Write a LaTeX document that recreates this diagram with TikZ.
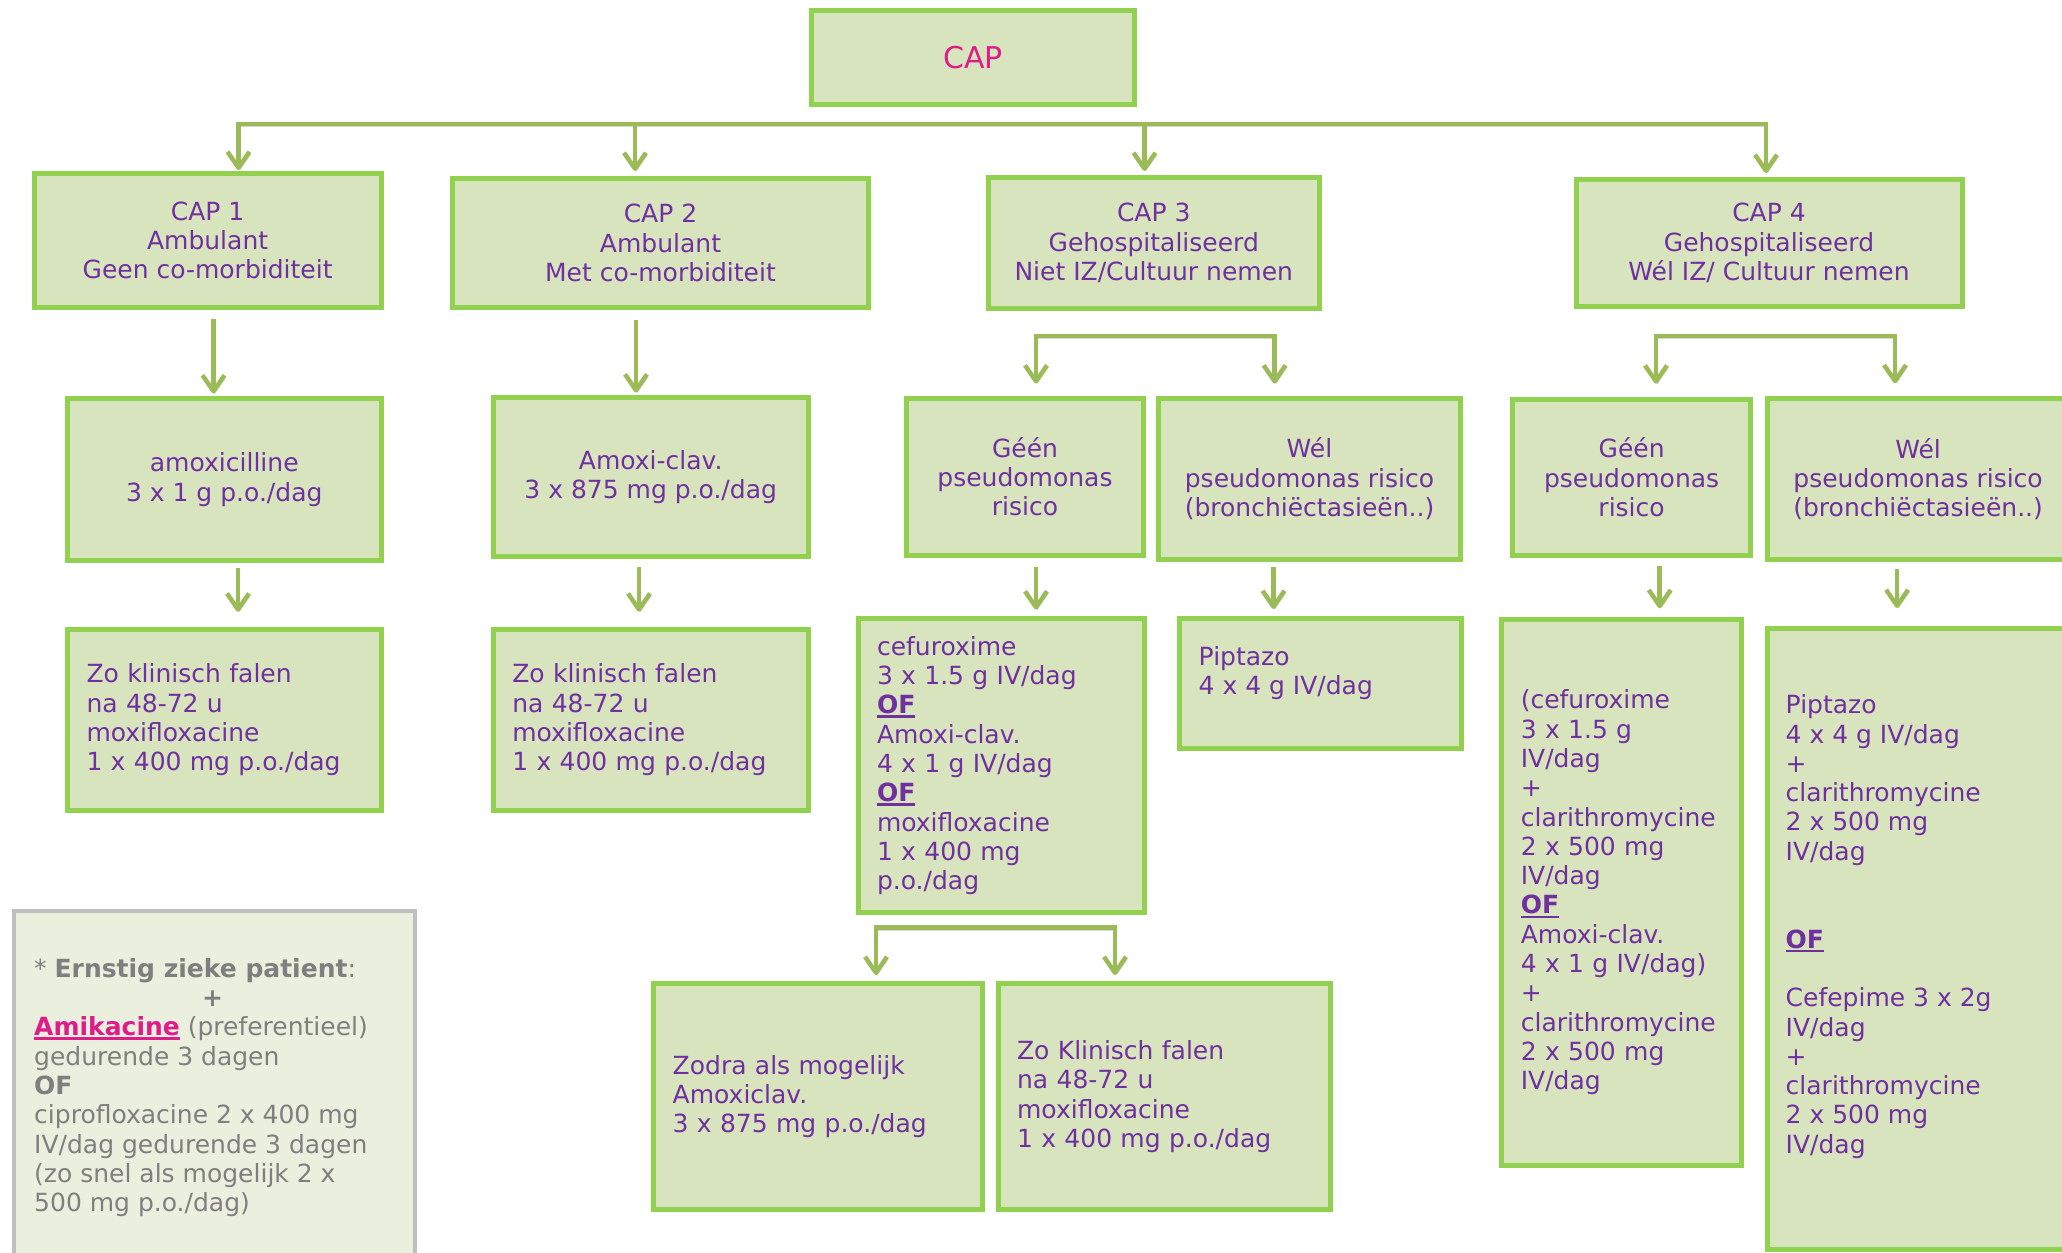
\documentclass[tikz,border=0pt]{standalone}
\usepackage{fontspec}
\setmainfont{DejaVu Sans}
\usetikzlibrary{arrows.meta}

\definecolor{boxfill}{HTML}{D8E4BE}
\definecolor{boxline}{HTML}{92D050}
\definecolor{conn}{HTML}{9BBB59}
\definecolor{txt}{HTML}{7030A0}
\definecolor{capmag}{HTML}{DE1C8A}
\definecolor{notefill}{HTML}{EBEFDD}
\definecolor{noteline}{HTML}{BFBFBF}
\definecolor{notetxt}{HTML}{7F7F7F}

\hyphenpenalty=10000
\exhyphenpenalty=10000

% thick underline used for the "OF" separators and the drug name
\newcommand\markline[1]{\leavevmode\setbox0\hbox{#1}\rlap{\rule[-4pt]{\wd0}{2.4pt}}\box0}
\newcommand\ofmark{\markline{\textbf{OF}}}

\begin{document}
\begin{tikzpicture}[x=1pt,y=-1pt,
  box/.style={draw=boxline, fill=boxfill, line width=5pt, text=txt,
    font=\fontsize{25}{29.3}\selectfont, inner sep=0pt},
  cbox/.style={box, align=center},
  lbox/.style={box, align=left, inner xsep=19pt, inner ysep=0pt},
  plain/.style={text=txt, font=\fontsize{25}{29.3}\selectfont, align=left, inner sep=0pt, anchor=north west},
  tip/.tip={Straight Barb[length=16pt,width=22pt,line join=round]},
  link/.style={draw=conn, line width=4.5pt, line join=miter,
    preaction={draw=black, draw opacity=0.16, transform canvas={shift={(1.5pt,-2.5pt)}}}},
  arr/.style={link, -tip},
  bracket/.style={link, tip-tip},
]
\clip (0,0) rectangle (2062,1253);
\fill[white] (0,0) rectangle (2062,1253);

% ---- top level
\node[cbox, minimum width=323pt, minimum height=94pt, text=capmag,
  font=\fontsize{30}{36}\selectfont] (cap) at (973,57.5) {CAP};

% ---- categories
\node[cbox, minimum width=347pt, minimum height=134pt] (cap1) at (207.6,240.5)
  {CAP 1\\Ambulant\\Geen co-morbiditeit};
\node[cbox, minimum width=416pt, minimum height=129pt] (cap2) at (660.5,243)
  {CAP 2\\Ambulant\\Met co-morbiditeit};
\node[cbox, minimum width=330.5pt, minimum height=131pt] (cap3) at (1153.75,243)
  {CAP 3\\Gehospitaliseerd\\Niet IZ/Cultuur nemen};
\node[cbox, minimum width=386pt, minimum height=127pt] (cap4) at (1769,243)
  {CAP 4\\Gehospitaliseerd\\Wél IZ/ Cultuur nemen};

% ---- CAP 1 and CAP 2 columns
\node[cbox, minimum width=313.5pt, minimum height=162pt] (amox) at (224.25,479.5)
  {amoxicilline\\3 x 1 g p.o./dag};
\node[cbox, minimum width=314.8pt, minimum height=158.6pt] (amoxclav) at (650.7,476.8)
  {Amoxi-clav.\\3 x 875 mg p.o./dag};
\node[lbox, minimum width=313.5pt, minimum height=181.3pt, text width=275.5pt] (fail1) at (224.25,719.85)
  {Zo klinisch falen\\na 48-72 u\\moxifloxacine\\1 x 400 mg p.o./dag};
\node[lbox, minimum width=314.8pt, minimum height=181.3pt, text width=276.8pt] (fail2) at (650.7,719.85)
  {Zo klinisch falen\\na 48-72 u\\moxifloxacine\\1 x 400 mg p.o./dag};

% ---- CAP 3 branches
\node[cbox, minimum width=237pt, minimum height=156.7pt] (geen3) at (1025,476.85)
  {Géén\\pseudomonas\\risico};
\node[cbox, minimum width=302pt, minimum height=160.7pt] (wel3) at (1309.5,478.85)
  {Wél\\pseudomonas risico\\(bronchiëctasieën..)};
\node[lbox, minimum width=286.5pt, minimum height=294pt, text width=248.5pt] (cef3) at (1001.25,765.5)
  {cefuroxime\\3 x 1.5 g IV/dag\\\ofmark\\Amoxi-clav.\\4 x 1 g IV/dag\\\ofmark\\moxifloxacine\\1 x 400 mg\\p.o./dag};
\node[box, minimum width=282pt, minimum height=130.7pt] (pip3) at (1320.2,683.35) {};
\node[plain] (pip3txt) at (1198.5,646) {Piptazo\\4 x 4 g IV/dag};
\node[lbox, minimum width=328.8pt, minimum height=226pt, text width=290.8pt] (switch) at (818.1,1096.5)
  {Zodra als mogelijk\\Amoxiclav.\\3 x 875 mg p.o./dag};
\node[lbox, minimum width=332pt, minimum height=226pt, text width=294pt] (fail3) at (1164.1,1096.5)
  {Zo Klinisch falen\\na 48-72 u\\moxifloxacine\\1 x 400 mg p.o./dag};

% ---- CAP 4 branches
\node[cbox, minimum width=237.4pt, minimum height=156.3pt] (geen4) at (1631.6,477.35)
  {Géén\\pseudomonas\\risico};
\node[cbox, minimum width=301.8pt, minimum height=161pt] (wel4) at (1918.1,479.2)
  {Wél\\pseudomonas risico\\(bronchiëctasieën..)};
\node[lbox, minimum width=239.2pt, minimum height=545.3pt, text width=201.2pt] (cef4) at (1621.4,892.35)
  {(cefuroxime\\3 x 1.5 g\\IV/dag\\+\\clarithromycine\\2 x 500 mg\\IV/dag\\\ofmark\\Amoxi-clav.\\4 x 1 g IV/dag)\\+\\clarithromycine\\2 x 500 mg\\IV/dag};
\node[box, minimum width=301.8pt, minimum height=621pt] (pip4) at (1918.1,938.5) {};
\node[plain] (pip4txt) at (1785.5,694.5)
  {Piptazo\\4 x 4 g IV/dag\\+\\clarithromycine\\2 x 500 mg\\IV/dag\\[58.6pt]\ofmark\\[29.3pt]Cefepime 3 x 2g\\IV/dag\\+\\clarithromycine\\2 x 500 mg\\IV/dag};

% ---- note on severely ill patients
\node[draw=noteline, fill=notefill, line width=4pt, minimum width=401.3pt, minimum height=357pt] (note) at (214.35,1089.5) {};
\node[plain, text=notetxt] (notetxt) at (34,958)
  {* \textbf{Ernstig zieke patient}:\\
   \hspace*{168pt}\textbf{+}\\
   \textcolor{capmag}{\markline{\textbf{Amikacine}}} (preferentieel)\\
   gedurende 3 dagen\\
   \textbf{OF}\\
   ciprofloxacine 2 x 400 mg\\
   IV/dag gedurende 3 dagen\\
   (zo snel als mogelijk 2 x\\
   500 mg p.o./dag)};

% ---- connectors: top bracket
\coordinate (t1) at (238.5,124);
\coordinate (t2) at (635,124);
\coordinate (t3) at (1144.5,124);
\coordinate (t4) at (1766,124);
\draw[bracket, shorten <=1pt, shorten >=4pt] (cap1.north -| t1) -- (t1) -- (t4) -- (cap4.north -| t4);
\draw[arr, shorten >=5pt] (t2) -- (cap2.north -| t2);
\draw[arr, shorten >=4pt] (t3) -- (cap3.north -| t3);

% ---- straight drops
\draw[arr, shorten <=9pt, shorten >=2.5pt] ([xshift=5.9pt]cap1.south) -- ([xshift=5.9pt]cap1.south |- amox.north);
\draw[arr, shorten <=9.5pt, shorten >=2.5pt] ([xshift=-24.5pt]cap2.south) -- ([xshift=-24.5pt]cap2.south |- amoxclav.north);
\draw[arr, shorten <=4.5pt, shorten >=15pt] ([xshift=13.75pt]amox.south) -- ([xshift=13.75pt]amox.south |- fail1.north);
\draw[arr, shorten <=8pt, shorten >=15pt] ([xshift=-11.7pt]amoxclav.south) -- ([xshift=-11.7pt]amoxclav.south |- fail2.north);
\draw[arr, shorten <=9pt, shorten >=6.5pt] ([xshift=11pt]geen3.south) -- ([xshift=11pt]geen3.south |- cef3.north);
\draw[arr, shorten <=5pt, shorten >=6.5pt] ([xshift=-36pt]wel3.south) -- ([xshift=-36pt]wel3.south |- pip3.north);
\draw[arr, shorten <=7.5pt, shorten >=9pt] ([xshift=28.1pt]geen4.south) -- ([xshift=28.1pt]geen4.south |- cef4.north);
\draw[arr, shorten <=7pt, shorten >=17.5pt] ([xshift=-21pt]wel4.south) -- ([xshift=-21pt]wel4.south |- pip4.north);

% ---- split brackets
\coordinate (s3a) at (1036,336);
\coordinate (s3b) at (1274.6,336);
\draw[bracket, shorten <=12.5pt, shorten >=12.5pt] (geen3.north -| s3a) -- (s3a) -- (s3b) -- (wel3.north -| s3b);
\coordinate (s4a) at (1656,336);
\coordinate (s4b) at (1895,336);
\draw[bracket, shorten <=13pt, shorten >=13pt] (geen4.north -| s4a) -- (s4a) -- (s4b) -- (wel4.north -| s4b);
\coordinate (s5a) at (876,927.3);
\coordinate (s5b) at (1115,927.3);
\draw[bracket, shorten <=6pt, shorten >=6pt] (switch.north -| s5a) -- (s5a) -- (s5b) -- (fail3.north -| s5b);
\end{tikzpicture}
\end{document}
